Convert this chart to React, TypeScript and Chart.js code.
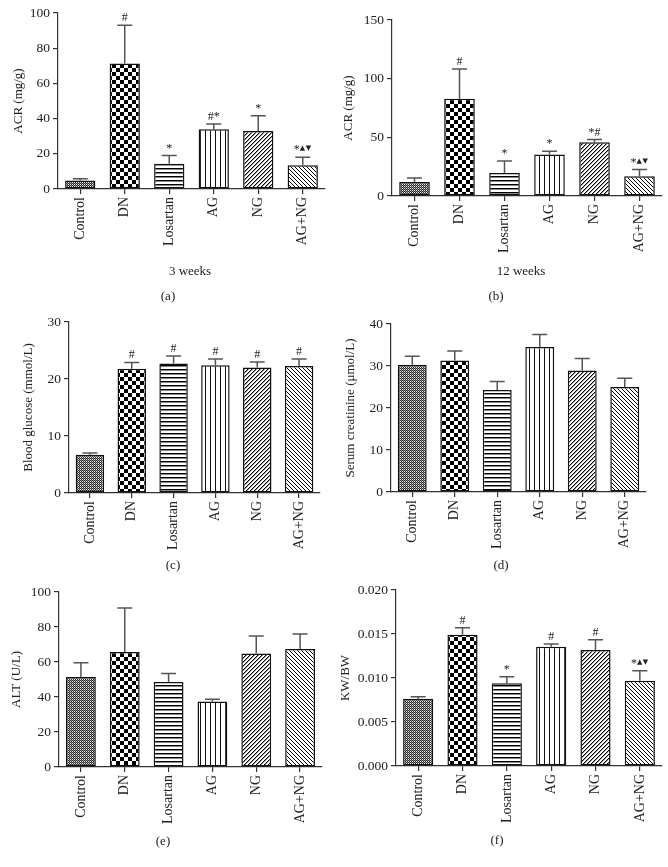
import React, { useEffect, useRef } from "react";
import { Chart, registerables } from "chart.js";

Chart.register(...registerables);

// ---------- data ----------
const groups = ["Control", "DN", "Losartan", "AG", "NG", "AG+NG"];

const acr3wMeans = [4.8, 71.3, 14.4, 34.0, 32.9, 13.5];
const acr3wErrors = [1.0, 21.7, 4.6, 3.0, 8.7, 4.5];
const acr3wMarks = ["", "#", "*", "#*", "*", "*▲▼"];

const acr12wMeans = [12.0, 82.8, 19.6, 35.3, 45.8, 16.8];
const acr12wErrors = [3.4, 25.4, 10.3, 2.8, 2.3, 5.7];
const acr12wMarks = ["", "#", "*", "*", "*#", "*▲▼"];

const glucoseMeans = [6.7, 21.8, 22.7, 22.4, 22.0, 22.3];
const glucoseErrors = [0.3, 1.1, 1.35, 1.1, 1.0, 1.2];
const glucoseMarks = ["", "#", "#", "#", "#", "#"];

const creatinineMeans = [30.3, 31.3, 24.3, 34.5, 28.9, 25.0];
const creatinineErrors = [2.0, 2.3, 2.0, 3.0, 2.9, 2.1];
const creatinineMarks = ["", "", "", "", "", ""];

const altMeans = [51.4, 65.7, 48.6, 37.5, 64.8, 67.4];
const altErrors = [8.2, 25.2, 4.9, 1.2, 10.1, 8.6];
const altMarks = ["", "", "", "", "", ""];

const kwbwMeans = [0.00765, 0.01492, 0.00939, 0.01356, 0.01318, 0.0097];
const kwbwErrors = [0.00023, 0.0008, 0.00076, 0.0003, 0.00118, 0.00113];
const kwbwMarks = ["", "#", "*", "#", "#", "*▲▼"];

const patternKinds = ["fine", "checker", "hlines", "vlines", "diagUp", "diagDown"];

// ---------- style ----------
const SERIF = '"Liberation Serif", "Times New Roman", serif';
const AXIS = "#333";
const TEXT = "#222";
const ERR = "#555";
const XH = 60;

type Spec = {
  X: number; Y: number; W: number; H: number;
  AL: number; AR: number; AT: number; AB: number;
  max: number; step: number; decimals: number;
  means: number[]; errors: number[]; marks: string[];
  yTitle: string; yTitleX: number;
  xTitle?: string; xTitleX?: number; xTitleY?: number;
  letter: string; letterX: number; letterY: number;
};

const specs: Spec[] = [
  { X: 0, Y: 0, W: 334, H: 305, AL: 58, AR: 325, AT: 13, AB: 189, max: 100, step: 20, decimals: 0,
    means: acr3wMeans, errors: acr3wErrors, marks: acr3wMarks, yTitle: "ACR (mg/g)", yTitleX: 19,
    xTitle: "3 weeks", xTitleX: 190, xTitleY: 272, letter: "(a)", letterX: 168, letterY: 297 },
  { X: 334, Y: 0, W: 334, H: 305, AL: 58, AR: 328, AT: 20, AB: 196, max: 150, step: 50, decimals: 0,
    means: acr12wMeans, errors: acr12wErrors, marks: acr12wMarks, yTitle: "ACR (mg/g)", yTitleX: 15,
    xTitle: "12 weeks", xTitleX: 187, xTitleY: 272, letter: "(b)", letterX: 162, letterY: 297 },
  { X: 0, Y: 305, W: 334, H: 268, AL: 69, AR: 320, AT: 17, AB: 188, max: 30, step: 10, decimals: 0,
    means: glucoseMeans, errors: glucoseErrors, marks: glucoseMarks, yTitle: "Blood glucose (mmol/L)", yTitleX: 29,
    letter: "(c)", letterX: 173, letterY: 261 },
  { X: 334, Y: 305, W: 334, H: 268, AL: 57, AR: 312, AT: 19, AB: 187, max: 40, step: 10, decimals: 0,
    means: creatinineMeans, errors: creatinineErrors, marks: creatinineMarks, yTitle: "Serum creatinine (μmol/L)", yTitleX: 17,
    letter: "(d)", letterX: 167, letterY: 261 },
  { X: 0, Y: 573, W: 334, H: 294, AL: 59, AR: 322, AT: 19, AB: 194, max: 100, step: 20, decimals: 0,
    means: altMeans, errors: altErrors, marks: altMarks, yTitle: "ALT (U/L)", yTitleX: 17,
    letter: "(e)", letterX: 163, letterY: 269 },
  { X: 334, Y: 573, W: 334, H: 294, AL: 62, AR: 328, AT: 17, AB: 193, max: 0.02, step: 0.005, decimals: 3,
    means: kwbwMeans, errors: kwbwErrors, marks: kwbwMarks, yTitle: "KW/BW", yTitleX: 12,
    letter: "(f)", letterX: 163, letterY: 268 },
];

// ---------- patterns ----------
function makeTile(kind: string): HTMLCanvasElement {
  const c = document.createElement("canvas");
  const px = (ctx: CanvasRenderingContext2D, x: number, y: number, col: string) => {
    ctx.fillStyle = col;
    ctx.fillRect(x, y, 1, 1);
  };
  let ctx: CanvasRenderingContext2D;
  if (kind === "fine") {
    c.width = 2; c.height = 2; ctx = c.getContext("2d")!;
    ctx.fillStyle = "#2a2a2a"; ctx.fillRect(0, 0, 2, 2);
    px(ctx, 0, 0, "#eee"); px(ctx, 1, 1, "#888");
  } else if (kind === "checker") {
    c.width = 8; c.height = 8; ctx = c.getContext("2d")!;
    ctx.fillStyle = "#fff"; ctx.fillRect(0, 0, 8, 8);
    ctx.fillStyle = "#000"; ctx.fillRect(0, 0, 4, 4); ctx.fillRect(4, 4, 4, 4);
  } else if (kind === "hlines") {
    c.width = 4; c.height = 4; ctx = c.getContext("2d")!;
    ctx.fillStyle = "#fff"; ctx.fillRect(0, 0, 4, 4);
    ctx.fillStyle = "#000"; ctx.fillRect(0, 0, 4, 1);
    ctx.fillStyle = "#888"; ctx.fillRect(0, 1, 4, 1);
  } else if (kind === "vlines") {
    c.width = 5; c.height = 5; ctx = c.getContext("2d")!;
    ctx.fillStyle = "#fff"; ctx.fillRect(0, 0, 5, 5);
    ctx.fillStyle = "#111"; ctx.fillRect(0, 0, 1, 5);
  } else if (kind === "diagUp") {
    c.width = 4; c.height = 4; ctx = c.getContext("2d")!;
    ctx.fillStyle = "#fff"; ctx.fillRect(0, 0, 4, 4);
    for (let i = 0; i < 4; i++) { px(ctx, i, 3 - i, "#000"); px(ctx, i, (4 - i) % 4, "#999"); }
  } else {
    c.width = 4; c.height = 4; ctx = c.getContext("2d")!;
    ctx.fillStyle = "#fff"; ctx.fillRect(0, 0, 4, 4);
    for (let i = 0; i < 4; i++) { px(ctx, i, i, "#000"); }
  }
  return c;
}

// ---------- overlay plugin (error bars, marks, titles) ----------
function overlay(spec: Spec) {
  return {
    id: "overlay",
    afterDatasetsDraw(chart: any) {
      const ctx: CanvasRenderingContext2D = chart.ctx;
      const yScale = chart.scales.y;
      const meta = chart.getDatasetMeta(0);
      meta.data.forEach((bar: any, i: number) => {
        const v = spec.means[i];
        const e = spec.errors[i];
        const base = yScale.getPixelForValue(v);
        const top = yScale.getPixelForValue(v + e);
        ctx.save();
        ctx.strokeStyle = ERR;
        ctx.lineWidth = 1.5;
        ctx.beginPath();
        ctx.moveTo(bar.x, base);
        ctx.lineTo(bar.x, top);
        ctx.moveTo(bar.x - 7.5, top);
        ctx.lineTo(bar.x + 7.5, top);
        ctx.stroke();
        const mark = spec.marks[i];
        if (mark) {
          const parts = Array.from(mark).map((ch) => {
            const tri = ch === "▲" || ch === "▼";
            return { ch, font: tri ? '7px "DejaVu Sans", sans-serif' : `12px ${SERIF}`, tri };
          });
          let total = 0;
          const widths = parts.map((p) => {
            ctx.font = p.font;
            const w = ctx.measureText(p.ch).width + (p.tri ? 0.5 : 0);
            total += w;
            return w;
          });
          let x = bar.x - total / 2;
          const baseY = top - 4;
          ctx.fillStyle = TEXT;
          ctx.textAlign = "left";
          ctx.textBaseline = "alphabetic";
          parts.forEach((p, k) => {
            ctx.font = p.font;
            ctx.fillText(p.ch, x, p.tri ? baseY - 3 : baseY);
            x += widths[k];
          });
        }
        ctx.restore();
      });
    },
    afterDraw(chart: any) {
      const ctx: CanvasRenderingContext2D = chart.ctx;
      const area = chart.chartArea;
      ctx.save();
      ctx.fillStyle = TEXT;
      ctx.textAlign = "center";
      ctx.textBaseline = "middle";
      ctx.font = `13px ${SERIF}`;
      if (spec.xTitle) ctx.fillText(spec.xTitle, spec.xTitleX!, spec.xTitleY!);
      ctx.fillText(spec.letter, spec.letterX, spec.letterY);
      ctx.translate(spec.yTitleX, (area.top + area.bottom) / 2);
      ctx.rotate(-Math.PI / 2);
      ctx.font = `13px ${SERIF}`;
      ctx.fillText(spec.yTitle, 0, 0);
      ctx.restore();
    },
  };
}

function Panel({ spec }: { spec: Spec }) {
  const ref = useRef<HTMLCanvasElement | null>(null);
  useEffect(() => {
    const canvas = ref.current!;
    const ctx = canvas.getContext("2d")!;
    const fills = patternKinds.map((k) => ctx.createPattern(makeTile(k), "repeat"));
    const chart = new Chart(canvas, {
      type: "bar",
      data: {
        labels: groups,
        datasets: [
          {
            data: spec.means,
            backgroundColor: fills as any,
            borderColor: "#111",
            borderWidth: 1.5,
            borderSkipped: false,
            barPercentage: 0.68,
            categoryPercentage: 1,
          },
        ],
      },
      options: {
        responsive: false,
        animation: false,
        devicePixelRatio: 1,
        layout: {
          autoPadding: false,
          padding: { left: 0, top: spec.AT, right: spec.W - spec.AR, bottom: spec.H - spec.AB - XH },
        },
        plugins: { legend: { display: false }, tooltip: { enabled: false } },
        scales: {
          x: {
            afterFit: (s: any) => { s.height = XH; },
            grid: { offset: false, drawOnChartArea: false, drawTicks: true, tickLength: 5, color: AXIS, lineWidth: 1.2 },
            border: { color: AXIS, width: 1.2 },
            ticks: { minRotation: 90, maxRotation: 90, autoSkip: false, padding: 3, color: TEXT, font: { family: SERIF, size: 14 } },
          },
          y: {
            min: 0,
            max: spec.max,
            afterFit: (s: any) => { s.width = spec.AL; },
            grid: { drawOnChartArea: false, drawTicks: true, tickLength: 5, color: AXIS, lineWidth: 1.2 },
            border: { color: AXIS, width: 1.2 },
            ticks: {
              stepSize: spec.step,
              padding: 3,
              color: TEXT,
              font: { family: SERIF, size: 13.5 },
              callback: (v: any) => Number(v).toFixed(spec.decimals),
            },
          },
        },
      } as any,
      plugins: [overlay(spec)],
    });
    return () => chart.destroy();
  }, [spec]);
  return (
    <canvas
      ref={ref}
      width={spec.W}
      height={spec.H}
      style={{ position: "absolute", left: spec.X, top: spec.Y, width: spec.W, height: spec.H }}
    />
  );
}

export default function App() {
  return (
    <div style={{ position: "absolute", left: 0, top: 0, width: 668, height: 867, background: "#fff" }}>
      {specs.map((s, i) => (
        <Panel key={i} spec={s} />
      ))}
    </div>
  );
}
